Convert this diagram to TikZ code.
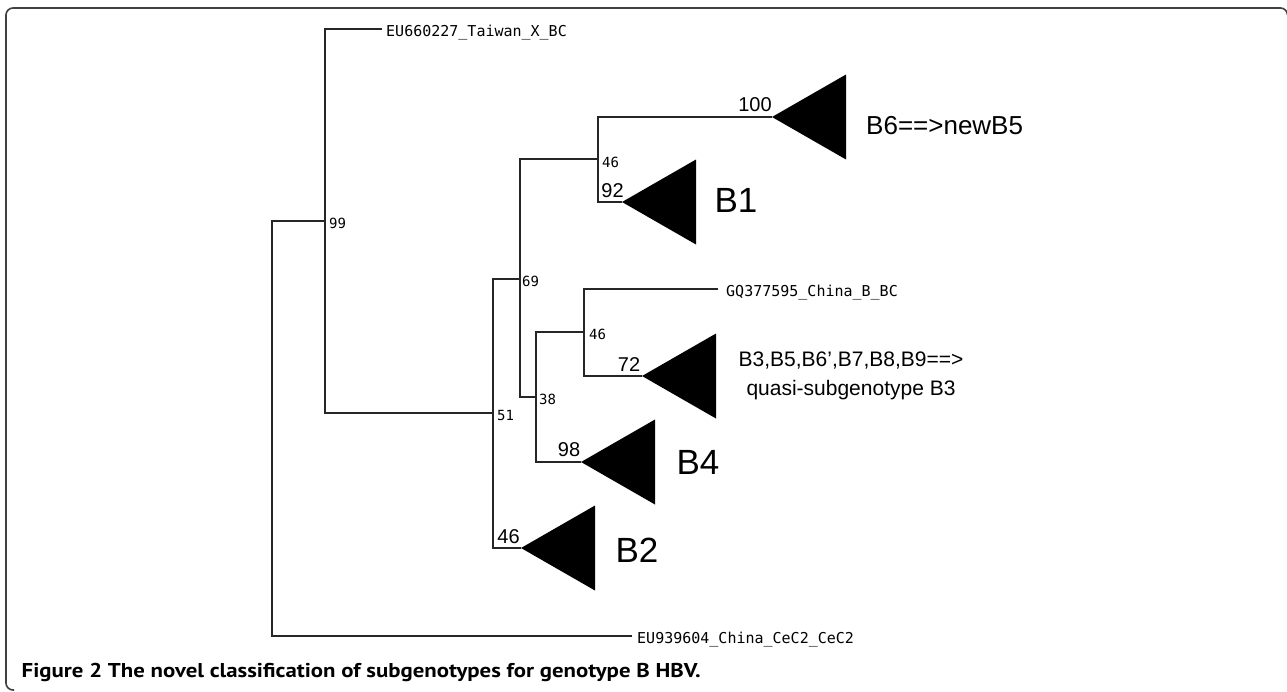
\documentclass[tikz,border=0pt]{standalone}
\usepackage{fontspec}
\setmainfont{Liberation Sans}
\newfontfamily\tipfont{DejaVu Sans Mono}
\newfontfamily\capfont{PT Sans}
\usetikzlibrary{calc}

\begin{document}
\begin{tikzpicture}[x=1pt,y=-1pt,
  branch/.style={line width=1.3pt, black!85},
  clade/.style={fill=black},
  tiplabel/.style={anchor=west, inner sep=0pt, font=\tipfont\fontsize{15}{18}\selectfont},
  bootsmall/.style={anchor=west, inner sep=0pt, font=\tipfont\fontsize{14}{16}\selectfont},
  bootbig/.style={inner sep=0pt, font=\fontsize{20}{24}\selectfont},
  cladename/.style={inner sep=0pt, font=\fontsize{35}{40}\selectfont},
  cladenote/.style={inner sep=0pt, font=\fontsize{21}{29}\selectfont, align=center}]
  \useasboundingbox (0,0) rectangle (1287,691);
  % Frame round the figure (top and left side only)
  \draw[line width=1.6pt, black!75, rounded corners=7pt]
    (1287.5,12) -- (1287.5,8) -- (6,8) -- (6,690) -- (14,690);

  % Branch points: top and bottom of each vertical bar
  \coordinate (rootT) at (272,221);
  \coordinate (rootB) at (272,636);
  \coordinate (n99T) at (325,29);
  \coordinate (n99B) at (325,413);
  \coordinate (n51T) at (493,279);
  \coordinate (n51B) at (493,548);
  \coordinate (n69T) at (520,159);
  \coordinate (n69B) at (520,397);
  \coordinate (n46aT) at (598,117);
  \coordinate (n46aB) at (598,202);
  \coordinate (n38T) at (536,332);
  \coordinate (n38B) at (536,462);
  \coordinate (n46bT) at (584,289);
  \coordinate (n46bB) at (584,376);
  % Leaf ends
  \coordinate (tw) at (382,29);
  \coordinate (tg) at (718,289);
  \coordinate (tc) at (632,636);
  % Collapsed clades: apex of each triangle
  \coordinate (b6) at (772,117);
  \coordinate (b1) at (622,202);
  \coordinate (b3) at (642,376);
  \coordinate (b4) at (581,462);
  \coordinate (b2) at (521,548);

  % Branches
  \draw[branch] (tc) -- (rootB) -- (rootT) -- (rootT -| n99T);
  \draw[branch] (tw) -- (n99T) -- (n99B) -- (n99B -| n51T);
  \draw[branch] (n51T -| n69T) -- (n51T) -- (n51B) -- (b2);
  \draw[branch] (n69T -| n46aT) -- (n69T) -- (n69B) -- (n69B -| n38T);
  \draw[branch] (b6) -- (n46aT) -- (n46aB) -- (b1);
  \draw[branch] (n38T -| n46bT) -- (n38T) -- (n38B) -- (b4);
  \draw[branch] (tg) -- (n46bT) -- (n46bB) -- (b3);

  % Triangles
  \fill[clade] (b6) -- ++(74,-42.5) -- ++(0,85) -- cycle;
  \fill[clade] (b1) -- ++(74,-42.5) -- ++(0,85) -- cycle;
  \fill[clade] (b3) -- ++(74,-42.5) -- ++(0,85) -- cycle;
  \fill[clade] (b4) -- ++(74,-42.5) -- ++(0,85) -- cycle;
  \fill[clade] (b2) -- ++(74,-42.5) -- ++(0,85) -- cycle;

  % Leaf labels
  \node[tiplabel] (taiwan) at (386,33) {EU660227\_Taiwan\_X\_BC};
  \node[tiplabel] (gq) at (726,293) {GQ377595\_China\_B\_BC};
  \node[tiplabel] (cec) at (637,640) {EU939604\_China\_CeC2\_CeC2};

  % Bootstrap values
  \node[bootsmall] (bs99) at (329,223) {99};
  \node[bootsmall] (bs51) at (497,415) {51};
  \node[bootsmall] (bs69) at (522,281) {69};
  \node[bootsmall] (bs46a) at (602,162) {46};
  \node[bootsmall] (bs38) at (539,399) {38};
  \node[bootsmall] (bs46b) at (589,334) {46};
  \node[bootbig] (bb100) at (755,104.5) {100};
  \node[bootbig] (bb92) at (612.5,190.5) {92};
  \node[bootbig] (bb72) at (629,364.5) {72};
  \node[bootbig] (bb98) at (569,450) {98};
  \node[bootbig] (bb46) at (508.5,537) {46};

  % Subgenotype names
  \node[cladename] (nB1) at (736,200.5) {B1};
  \node[cladename] (nB4) at (698,462) {B4};
  \node[cladename] (nB2) at (637,550.5) {B2};
  \node[inner sep=0pt, anchor=base west, font=\fontsize{26}{30}\selectfont] (nB6) at (866,134.5) {B6==>newB5};
  \node[cladenote] (nB3) at (851,376) {B3,B5,B6',B7,B8,B9==>\\quasi-subgenotype B3};

  % Caption
  \node[anchor=base west, inner sep=0pt, font=\capfont\bfseries\fontsize{20}{24}\selectfont] (caption)
    at (21.5,677) {\scalebox{1.14}[1]{Figure 2 The novel classification of subgenotypes for genotype B HBV.}};
\end{tikzpicture}
\end{document}
